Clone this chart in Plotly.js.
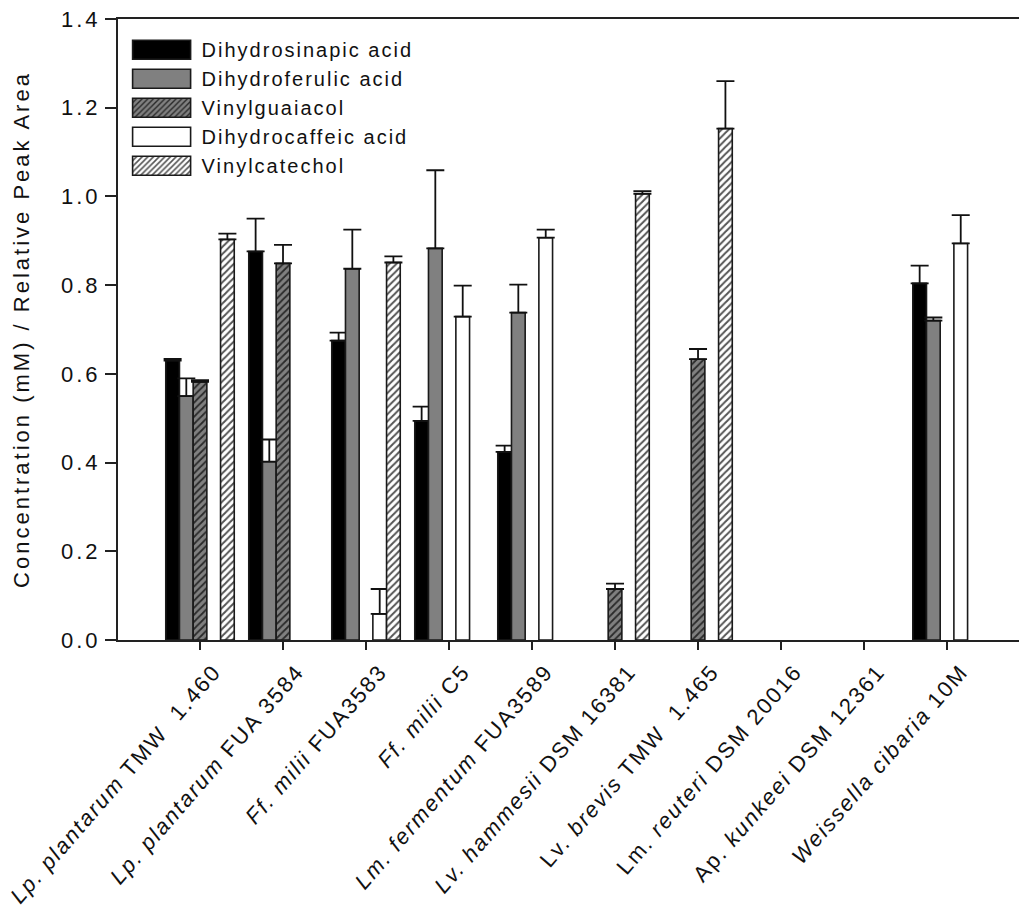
<!DOCTYPE html>
<html>
<head>
<meta charset="utf-8">
<script src="https://cdn.plot.ly/plotly-3.0.1.min.js"></script>
<style>
html,body{margin:0;padding:0;background:#fff;}
#chart g.ytick text{letter-spacing:3px;}
#chart g.xtick text{letter-spacing:2px;}
#chart text.ytitle{letter-spacing:3px;}
#chart text.legendtext{letter-spacing:2px;}
</style>
</head>
<body>
<div id="chart" style="width:1019px;height:907px;"></div>
<script>
// ---- data ----
const strains = [
  "Lp. plantarum TMW 1.460", "Lp. plantarum FUA 3584", "Ff. milii FUA3583", "Ff. milii C5",
  "Lm. fermentum FUA3589", "Lv. hammesii DSM 16381", "Lv. brevis TMW 1.465",
  "Lm. reuteri DSM 20016", "Ap. kunkeei DSM 12361", "Weissella cibaria 10M"
];
const strainLabels = [
  "<i>Lp. plantarum</i> TMW  1.460", "<i>Lp. plantarum</i> FUA 3584", "<i>Ff. milii</i> FUA3583",
  "<i>Ff. milii</i> C5", "<i>Lm. fermentum</i> FUA3589", "<i>Lv. hammesii</i> DSM 16381",
  "Lv. <i>brevis</i> TMW  1.465", "Lm. <i>reuteri</i> DSM 20016", "Ap. <i>kunkeei</i> DSM 12361",
  "<i>Weissella cibaria</i> 10M"
];
const seriesNames = ["Dihydrosinapic acid", "Dihydroferulic acid", "Vinylguaiacol", "Dihydrocaffeic acid", "Vinylcatechol"];

const dihydrosinapic     = [0.630, 0.876, 0.675, 0.494, 0.424, 0, 0, 0, 0, 0.804];
const dihydrosinapicErr  = [0.004, 0.074, 0.018, 0.032, 0.014, 0, 0, 0, 0, 0.040];
const dihydroferulic     = [0.550, 0.402, 0.837, 0.883, 0.738, 0, 0, 0, 0, 0.720];
const dihydroferulicErr  = [0.040, 0.050, 0.088, 0.176, 0.063, 0, 0, 0, 0, 0.007];
const vinylguaiacol      = [0.582, 0.849, 0, 0, 0, 0.115, 0.633, 0, 0, 0];
const vinylguaiacolErr   = [0.004, 0.042, 0, 0, 0, 0.012, 0.023, 0, 0, 0];
const dihydrocaffeic     = [0, 0, 0.059, 0.729, 0.907, 0, 0, 0, 0, 0.894];
const dihydrocaffeicErr  = [0, 0, 0.056, 0.070, 0.018, 0, 0, 0, 0, 0.064];
const vinylcatechol      = [0.903, 0, 0.851, 0, 0, 1.006, 1.153, 0, 0, 0];
const vinylcatecholErr   = [0.013, 0, 0.014, 0, 0, 0.006, 0.107, 0, 0, 0];

const yTickVals = [0, 0.2, 0.4, 0.6, 0.8, 1.0, 1.2, 1.4];

// ---- styles ----
const styles = [
  {color: "#000000"},
  {color: "#808080"},
  {color: "#808080", pattern: {shape: "/", bgcolor: "#808080", fgcolor: "#2a2a2a", size: 5, solidity: 0.35}},
  {color: "#ffffff"},
  {color: "#ffffff", pattern: {shape: "/", bgcolor: "#ffffff", fgcolor: "#555555", size: 5, solidity: 0.4}}
];
const values = [dihydrosinapic, dihydroferulic, vinylguaiacol, dihydrocaffeic, vinylcatechol];
const errors = [dihydrosinapicErr, dihydroferulicErr, vinylguaiacolErr, dihydrocaffeicErr, vinylcatecholErr];

const FONT = "Liberation Sans, Arial, sans-serif";

const traces = seriesNames.map((name, i) => {
  const marker = {color: styles[i].color, line: {color: "#1a1a1a", width: 1.6}};
  if (styles[i].pattern) marker.pattern = styles[i].pattern;
  return {
    type: "bar",
    name: name,
    x: strains,
    y: values[i].map(v => v === 0 ? null : v),
    marker: marker,
    legendgroup: "g" + i,
    error_y: {
      type: "data",
      symmetric: false,
      array: errors[i].map((e, j) => values[i][j] === 0 ? null : e),
      arrayminus: errors[i].map(() => 0),
      color: "#111111",
      thickness: 1.8,
      width: 9
    },
    hoverinfo: "x+y+name"
  };
});

const layout = {
  width: 1019,
  height: 907,
  margin: {l: 118, r: 0, t: 19, b: 267, pad: 0},
  paper_bgcolor: "#ffffff",
  plot_bgcolor: "#ffffff",
  barmode: "group",
  bargap: 0.175,
  bargroupgap: 0,
  showlegend: true,
  legend: {
    x: 0.004, y: 0.982, xanchor: "left", yanchor: "top",
    bgcolor: "rgba(0,0,0,0)",
    font: {family: FONT, size: 20, color: "#111111"},
    tracegroupgap: 0,
    itemwidth: 70
  },
  xaxis: {
    type: "category",
    categoryorder: "array",
    categoryarray: strains,
    tickvals: strains,
    ticktext: strainLabels,
    range: [-0.988, 9.867],
    showline: true, linecolor: "#222222", linewidth: 2, mirror: true,
    ticks: "outside", ticklen: 8, tickwidth: 2, tickcolor: "#222222",
    tickangle: -49,
    ticklabelshift: 14,
    tickfont: {family: FONT, size: 22, color: "#111111"},
    showgrid: false, zeroline: false, automargin: false
  },
  yaxis: {
    range: [0, 1.4],
    tickvals: yTickVals,
    tickformat: ".1f",
    showline: true, linecolor: "#222222", linewidth: 2, mirror: false,
    ticks: "outside", ticklen: 11, tickwidth: 2, tickcolor: "#222222",
    tickfont: {family: FONT, size: 22, color: "#111111"},
    showgrid: false, zeroline: false, automargin: false,
    title: {text: "Concentration (mM) / Relative Peak Area", font: {family: FONT, size: 22, color: "#111111"}, standoff: 34}
  }
};

Plotly.newPlot("chart", traces, layout, {displayModeBar: false, staticPlot: true}).then(gd => {
  // widen the legend swatches to the reference's long rectangles
  gd.querySelectorAll(".legend .legendpoints path").forEach(p => {
    p.setAttribute("d", "M29,9.5H-29V-9.5H29Z");
    p.setAttribute("transform", "translate(40,0)");
  });
  // letter-spaced legend text is wider than Plotly measured: do not clip it
  gd.querySelectorAll(".legend [clip-path]").forEach(e => e.removeAttribute("clip-path"));
});
</script>
</body>
</html>
